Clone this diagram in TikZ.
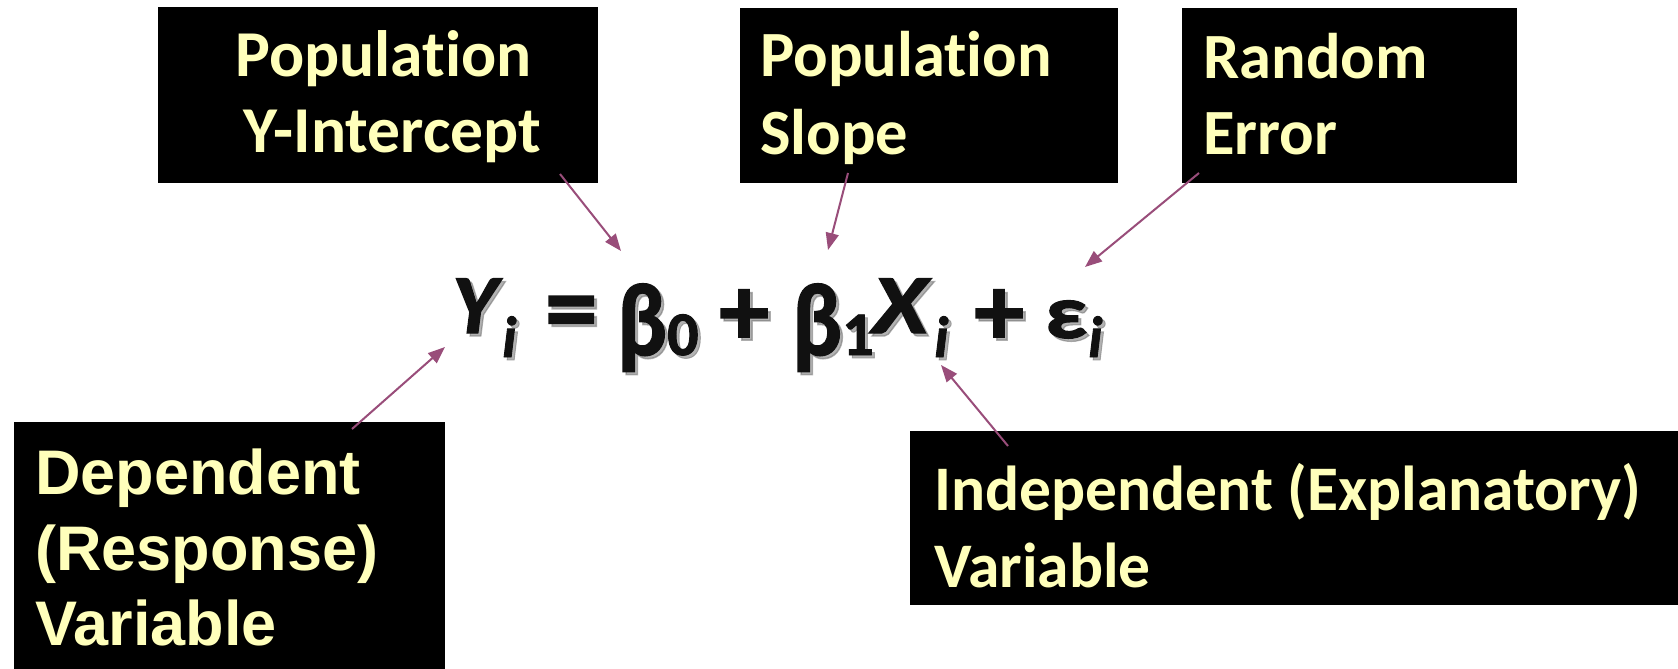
\documentclass[tikz,border=0pt]{standalone}
\usepackage{fontspec}
\newfontfamily\calfont{Carlito}[Ligatures=NoCommon]
\newfontfamily\eqfont{Carlito}[Ligatures=NoCommon, FakeBold=1.5]
\newfontfamily\arfont{Liberation Sans}
\usetikzlibrary{arrows.meta,calc}
\definecolor{lbl}{RGB}{255,255,187}
\definecolor{arr}{RGB}{153,77,122}
\definecolor{eqc}{RGB}{17,17,17}
\tikzset{
  box/.style={fill=black, draw=none, inner sep=0pt, anchor=north west},
  topA/.style={text=lbl, inner sep=0pt, anchor=base west, font=\calfont\bfseries\fontsize{65.5}{74}\selectfont},
  topB/.style={text=lbl, inner sep=0pt, anchor=base west, font=\calfont\bfseries\fontsize{64.5}{74}\selectfont},
  indtxt/.style={text=lbl, inner sep=0pt, anchor=base west, font=\calfont\bfseries\fontsize{63.5}{76}\selectfont},
  deptxt/.style={text=lbl, inner sep=0pt, anchor=base west, font=\arfont\bfseries\fontsize{63}{75}\selectfont},
  conn/.style={draw=arr, line width=2pt, -{Triangle[length=17pt,width=13pt]}},
  equp/.style={inner sep=0pt, anchor=base west, font=\eqfont\bfseries\fontsize{100}{100}\selectfont},
  eqeq/.style={inner sep=0pt, anchor=base west, font=\eqfont\bfseries\fontsize{105}{100}\selectfont},
  eqgr/.style={inner sep=0pt, anchor=base west, font=\eqfont\bfseries\fontsize{84}{90}\selectfont},
  eqit/.style={inner sep=0pt, anchor=base west, font=\eqfont\bfseries\itshape\fontsize{84}{90}\selectfont},
  eqsub/.style={inner sep=0pt, anchor=base west, font=\eqfont\bfseries\itshape\fontsize{58}{60}\selectfont},
  eqnum/.style={inner sep=0pt, anchor=base west, font=\eqfont\bfseries\fontsize{62}{60}\selectfont},
}
\newcommand{\shtext}[4]{% style, name, position, text
  \node[#1, text=black!55, opacity=0.55] at ($#3+(3,3)$) {#4};
  \node[#1, text=eqc] (#2) at #3 {#4};
}
\begin{document}
\begin{tikzpicture}[x=1pt, y=-1pt]
\useasboundingbox (0,0) rectangle (1678,669);
\fill[white] (0,0) rectangle (1678,669);

% boxes
\node[box, minimum width=440pt, minimum height=176pt] (b1) at (158,7) {};
\node[box, minimum width=378pt, minimum height=175pt] (b2) at (740,8) {};
\node[box, minimum width=335pt, minimum height=175pt] (b3) at (1182,8) {};
\node[box, minimum width=431pt, minimum height=247pt] (b4) at (14,422) {};
\node[box, minimum width=768pt, minimum height=174pt] (b5) at (910,431) {};

% labels
\node[topA] (t1a) at (235,77) {Population};
\node[topA] (t1b) at (243,152) {Y-Intercept};
\node[topB] (t2a) at (760,77) {Population};
\node[topB] (t2b) at (760,154) {Slope};
\node[topB] (t3a) at (1203,78) {Random};
\node[topB] (t3b) at (1203,154) {Error};
\node[deptxt] (t4a) at (35,494) {Dependent};
\node[deptxt] (t4b) at (35,570) {(Response)};
\node[deptxt] (t4c) at (35,645) {Variable};
\node[indtxt] (t5a) at (934,510) {Independent (Explanatory)};
\node[indtxt] (t5b) at (934,587) {Variable};

% equation
\shtext{eqit}{eY}{(452,333)}{\scalebox{1.03}[1]{Y}}
\shtext{eqsub}{eYi}{(502,357)}{i}
\shtext{eqeq}{eEq}{(545,343)}{=}
\shtext{eqgr}{eB0}{(617,355)}{\resizebox*{50pt}{88pt}{β}}
\shtext{eqnum}{eN0}{(667,355)}{0}
\shtext{equp}{eP1}{(719,345)}{+}
\shtext{eqgr}{eB1}{(792,355)}{\resizebox*{50pt}{88pt}{β}}
\shtext{eqnum}{eN1}{(842,355)}{1}
\shtext{eqit}{eX}{(872,333)}{\scalebox{1.2}[1]{X}}
\shtext{eqsub}{eXi}{(934,357)}{i}
\shtext{equp}{eP2}{(974,345)}{+}
\shtext{eqgr}{eE}{(1045,338)}{\resizebox*{42pt}{38pt}{ε}}
\shtext{eqsub}{eEi}{(1088,357)}{i}

% connector ends
\coordinate (s1) at (560,174);
\coordinate (e1) at (621,251);
\coordinate (s2) at (848,173);
\coordinate (e2) at (828,250);
\coordinate (s3) at (1199,173);
\coordinate (e3) at (1085,267);
\coordinate (s4) at (352,429);
\coordinate (e4) at (445,347);
\coordinate (s5) at (1008,446);
\coordinate (e5) at (941,365);

\draw[conn] (s1) -- (e1);
\draw[conn] (s2) -- (e2);
\draw[conn] (s3) -- (e3);
\draw[conn] (s4) -- (e4);
\draw[conn] (s5) -- (e5);
\end{tikzpicture}
\end{document}
